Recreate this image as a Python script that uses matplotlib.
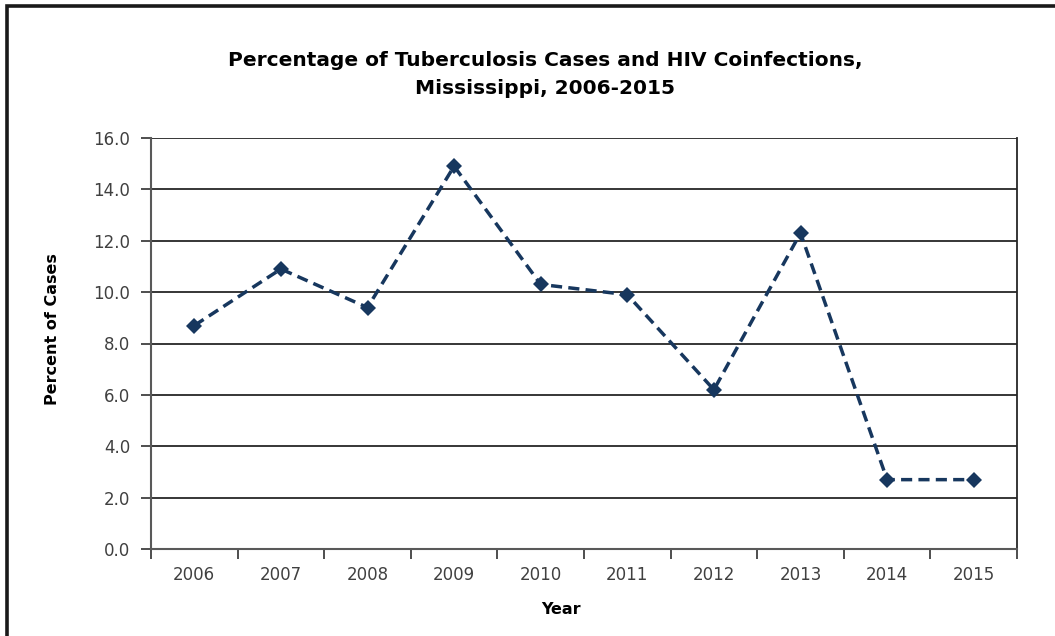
import matplotlib
matplotlib.use("Agg")
import matplotlib.pyplot as plt
from matplotlib.patches import Rectangle

years = ["2006", "2007", "2008", "2009", "2010", "2011", "2012", "2013", "2014", "2015"]
percent = [8.7, 10.9, 9.4, 14.9, 10.3, 9.9, 6.2, 12.3, 2.7, 2.7]
y_ticks = [0, 2, 4, 6, 8, 10, 12, 14, 16]

plt.rcParams['font.family'] = ['DejaVu Sans']

W, H = 1055, 636
fig = plt.figure(figsize=(W / 100, H / 100), dpi=100)
ax = fig.add_axes([151 / W, 1 - 549 / H, (1017 - 151) / W, (549 - 138) / H])

x = list(range(len(years)))
ax.plot(x, percent, color='#17375E', linestyle=(0, (3.2, 1.8)), linewidth=2.5,
        marker='D', markersize=8, markeredgewidth=0, zorder=3)

ax.set_xlim(-0.5, len(years) - 0.5)
ax.set_ylim(0, 16)
ax.set_yticks(y_ticks)
ax.set_yticklabels([f"{v:.1f}" for v in y_ticks])
ax.set_xticks(x)
ax.set_xticklabels(years)
ax.set_xticks([i - 0.5 for i in range(len(years) + 1)], minor=True)
ax.tick_params(axis='x', which='major', length=0, pad=12, labelsize=12, labelcolor='#404040')
ax.tick_params(axis='x', which='minor', length=7, width=1.3, color='#404040', direction='out')
ax.tick_params(axis='y', length=7, width=1.3, color='#404040', pad=8, labelsize=12, labelcolor='#404040')

ax.grid(axis='y', color='#262626', linewidth=1.3)
ax.set_axisbelow(True)
ax.spines['top'].set_visible(False)
ax.spines['left'].set_color('#595959')
ax.spines['left'].set_linewidth(1.5)
ax.spines['bottom'].set_color('#595959')
ax.spines['bottom'].set_linewidth(1.5)
ax.spines['right'].set_color('#262626')
ax.spines['right'].set_linewidth(1.3)

ax.set_ylabel("Percent of Cases", fontsize=11.5, fontweight='bold')
ax.yaxis.set_label_coords(-0.1135, 0.536)
ax.yaxis.label.set_va('center')
fig.text(561 / W, 1 - 609 / H, "Year", ha='center', va='center', fontsize=11.5, fontweight='bold')
fig.text(545 / W, 1 - 75 / H, "Percentage of Tuberculosis Cases and HIV Coinfections,\nMississippi, 2006-2015",
         ha='center', va='center', fontsize=14.5, fontweight='bold', linespacing=1.6)

# outer chart frame
fig.patches.append(Rectangle((6.5 / W, -0.1), 1.2, 1 - 6 / H + 0.1, transform=fig.transFigure,
                             fill=False, edgecolor='#1a1a1a', linewidth=2.6))

fig.savefig("out.png", dpi=100)
